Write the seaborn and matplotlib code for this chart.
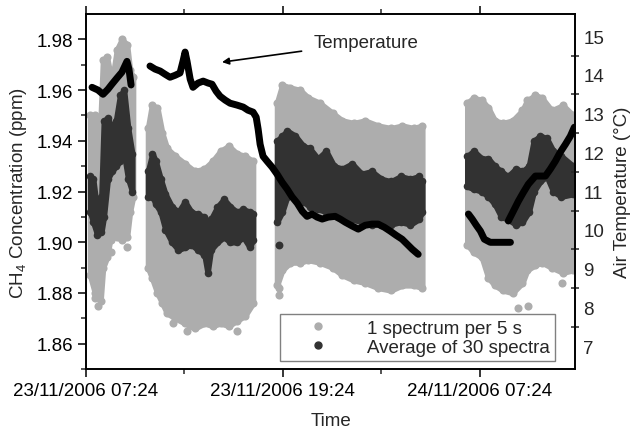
import numpy as np
import pandas as pd
import matplotlib
matplotlib.use('Agg')
import matplotlib.pyplot as plt
import matplotlib.dates as mdates
from matplotlib.lines import Line2D
import seaborn as sns

# hours after 23/11/2006 07:24, one list per measurement block
gray_t = [
    [0.25, 0.55, 0.89, 1.04, 1.28, 1.58, 1.89, 2.19, 2.50, 2.68, 2.87],
    [3.78, 4.02, 4.35, 4.65, 4.94, 5.44, 6.03, 6.62, 7.22, 7.71, 8.20, 8.70, 9.19, 9.69, 10.18],
    [11.64, 11.96, 12.45, 13.05, 13.54, 14.23, 15.02, 15.62, 16.31, 17.00, 17.79, 18.58, 19.27, 19.97, 20.49],
    [23.23, 23.62, 24.12, 24.51, 24.91, 25.40, 25.99, 26.59, 26.88, 27.38, 27.77, 28.37, 29.06, 29.69],
]
gray_lo = [
    [1.887, 1.880, 1.877, 1.890, 1.894, 1.905, 1.902, 1.901, 1.902, 1.912, 1.918],
    [1.890, 1.886, 1.880, 1.876, 1.872, 1.870, 1.868, 1.866, 1.868, 1.867, 1.868, 1.867, 1.869, 1.871, 1.876],
    [1.883, 1.889, 1.892, 1.892, 1.893, 1.892, 1.890, 1.887, 1.885, 1.884, 1.882, 1.881, 1.883, 1.883, 1.882],
    [1.899, 1.896, 1.894, 1.886, 1.883, 1.881, 1.880, 1.884, 1.889, 1.891, 1.892, 1.890, 1.888, 1.889],
]
gray_hi = [
    [1.950, 1.950, 1.948, 1.972, 1.973, 1.963, 1.976, 1.980, 1.978, 1.968, 1.965],
    [1.945, 1.954, 1.953, 1.943, 1.937, 1.934, 1.931, 1.928, 1.929, 1.932, 1.936, 1.938, 1.935, 1.934, 1.932],
    [1.955, 1.962, 1.961, 1.960, 1.957, 1.955, 1.951, 1.948, 1.947, 1.948, 1.946, 1.945, 1.946, 1.945, 1.946],
    [1.955, 1.957, 1.956, 1.953, 1.948, 1.947, 1.948, 1.952, 1.956, 1.958, 1.957, 1.952, 1.954, 1.950],
]
gray_out_t = [0.73, 0.55, 1.52, 1.55, 2.50, 6.16, 9.21, 5.31, 11.76, 11.76, 26.34, 26.95, 29.02]
gray_out_v = [1.875, 1.878, 1.901, 1.896, 1.898, 1.865, 1.865, 1.868, 1.882, 1.879, 1.874, 1.875, 1.884]

avg_t = [
    [0.25, 0.44, 0.69, 0.94, 1.09, 1.33, 1.58, 1.83, 2.08, 2.32, 2.57, 2.82],
    [3.78, 4.05, 4.25, 4.55, 4.84, 5.24, 5.63, 6.03, 6.42, 6.82, 7.22, 7.41, 7.61, 8.01, 8.40, 8.80, 9.19, 9.59, 9.98, 10.18],
    [11.64, 11.96, 12.26, 12.75, 13.24, 13.64, 14.13, 14.63, 15.12, 15.62, 16.21, 16.80, 17.40, 17.99, 18.58, 19.17, 19.77, 20.26, 20.49],
    [23.23, 23.62, 24.12, 24.51, 24.91, 25.30, 25.70, 26.19, 26.59, 26.98, 27.28, 27.68, 28.07, 28.47, 28.96, 29.69],
]
avg_lo = [
    [1.912, 1.908, 1.903, 1.904, 1.910, 1.925, 1.928, 1.930, 1.932, 1.935, 1.925, 1.920],
    [1.918, 1.918, 1.915, 1.912, 1.905, 1.900, 1.897, 1.898, 1.899, 1.897, 1.895, 1.888, 1.897, 1.900, 1.902, 1.900, 1.900, 1.902, 1.898, 1.901],
    [1.908, 1.912, 1.918, 1.918, 1.916, 1.914, 1.913, 1.912, 1.911, 1.910, 1.909, 1.908, 1.907, 1.907, 1.907, 1.908, 1.907, 1.909, 1.912],
    [1.922, 1.921, 1.920, 1.918, 1.915, 1.910, 1.909, 1.907, 1.908, 1.912, 1.920, 1.924, 1.926, 1.920, 1.918, 1.919],
]
avg_hi = [
    [1.926, 1.925, 1.912, 1.918, 1.948, 1.949, 1.945, 1.948, 1.958, 1.960, 1.945, 1.935],
    [1.928, 1.935, 1.932, 1.925, 1.919, 1.914, 1.912, 1.916, 1.912, 1.911, 1.910, 1.906, 1.909, 1.914, 1.917, 1.914, 1.912, 1.913, 1.912, 1.911],
    [1.940, 1.942, 1.944, 1.942, 1.938, 1.937, 1.933, 1.936, 1.930, 1.929, 1.931, 1.927, 1.928, 1.925, 1.924, 1.926, 1.925, 1.926, 1.924],
    [1.934, 1.936, 1.933, 1.933, 1.930, 1.928, 1.926, 1.929, 1.928, 1.930, 1.940, 1.942, 1.941, 1.936, 1.934, 1.930],
]
avg_out_t = [11.76]
avg_out_v = [1.899]

temp_t = [
    [0.37, 0.73, 1.04, 1.34, 1.58, 1.89, 2.19, 2.50, 2.62, 2.75],
    [3.90, 4.21, 4.52, 4.81, 5.12, 5.43, 5.73, 5.91, 6.04, 6.16, 6.35, 6.52, 6.83, 7.14, 7.44,
     7.68, 7.93, 8.17, 8.48, 8.78, 9.21, 9.58, 9.87, 10.18, 10.37, 10.49, 10.61, 10.79, 11.04,
     11.34, 11.64, 11.95, 12.26, 12.56, 12.87, 13.18, 13.47, 13.78, 14.08, 14.39, 14.76, 15.18,
     15.49, 15.79, 16.22, 16.59, 17.01, 17.44, 17.80, 18.17, 18.53, 18.90, 19.26, 19.57, 19.88, 20.24],
    [23.30, 23.53, 23.78, 24.03, 24.27, 24.63, 25.24, 25.86],
    [25.73, 26.03, 26.34, 26.65, 26.95, 27.38, 27.68, 27.99, 28.29, 28.59, 28.90, 29.21, 29.51, 29.75],
]
temp_v = [
    [13.68, 13.61, 13.50, 13.63, 13.76, 13.92, 14.07, 14.35, 14.15, 13.74],
    [14.23, 14.15, 14.10, 14.02, 13.94, 13.99, 14.05, 14.35, 14.59, 14.35, 13.89, 13.68, 13.79, 13.84, 13.79,
     13.76, 13.58, 13.45, 13.35, 13.27, 13.22, 13.17, 13.09, 13.04, 12.91, 12.60, 12.21, 11.90, 11.77,
     11.62, 11.44, 11.23, 11.05, 10.85, 10.69, 10.48, 10.35, 10.41, 10.33, 10.28, 10.33, 10.35,
     10.28, 10.20, 10.10, 10.02, 10.12, 10.15, 10.15, 10.07, 9.97, 9.86, 9.76, 9.63, 9.50, 9.37],
    [10.41, 10.28, 10.12, 9.97, 9.76, 9.68, 9.68, 9.68],
    [10.23, 10.48, 10.74, 10.97, 11.18, 11.39, 11.39, 11.39, 11.57, 11.77, 12.01, 12.21, 12.42, 12.65],
]

xtick_hours = [0, 12, 24]
xminor_hours = [6, 18]
x_end_hours = 29.8

START = pd.Timestamp('2006-11-23 07:24')
GRAY = '#adadad'
DARK = '#323232'
FS = 13.5


def to_time(hours):
    return START + pd.to_timedelta(np.asarray(hours, dtype=float), unit='h')


sns.set_style('ticks')
plt.rcParams['font.family'] = ['Liberation Sans', 'DejaVu Sans']
plt.rcParams['mathtext.default'] = 'regular'
plt.rcParams['font.size'] = FS

fig = plt.figure(figsize=(6.32, 4.31), dpi=100)
ax = fig.add_axes([0.136, 0.1415, 0.774, 0.8235])
ax2 = ax.twinx()

# 5 s spectra as a light cloud, 30-spectra averages as a dark band
for t, lo, hi in zip(gray_t, gray_lo, gray_hi):
    tt = to_time(t)
    ax.fill_between(tt, lo, hi, facecolor=GRAY, edgecolor=GRAY, lw=4, zorder=1)
    sns.scatterplot(x=tt, y=lo, color=GRAY, s=34, linewidth=0, ax=ax, zorder=1)
    sns.scatterplot(x=tt, y=hi, color=GRAY, s=34, linewidth=0, ax=ax, zorder=1)
sns.scatterplot(x=to_time(gray_out_t), y=gray_out_v, color=GRAY, s=34, linewidth=0, ax=ax, zorder=1)

for t, lo, hi in zip(avg_t, avg_lo, avg_hi):
    tt = to_time(t)
    ax.fill_between(tt, lo, hi, facecolor=DARK, edgecolor=DARK, lw=4, zorder=2)
    sns.scatterplot(x=tt, y=lo, color=DARK, s=30, linewidth=0, ax=ax, zorder=2)
    sns.scatterplot(x=tt, y=hi, color=DARK, s=30, linewidth=0, ax=ax, zorder=2)
sns.scatterplot(x=to_time(avg_out_t), y=avg_out_v, color=DARK, s=32, linewidth=0, ax=ax, zorder=2)

temp_df = pd.DataFrame({
    'time': np.concatenate([to_time(t) for t in temp_t]),
    'temp': np.concatenate(temp_v),
    'seg': np.concatenate([[i] * len(t) for i, t in enumerate(temp_t)]),
})
sns.lineplot(data=temp_df, x='time', y='temp', units='seg', estimator=None,
             color='black', lw=5, ax=ax2, legend=False)
for ln in ax2.lines:
    ln.set_solid_capstyle('round')
    ln.set_solid_joinstyle('round')

ax2.annotate('Temperature', xy=(to_time([8.29])[0], 14.33), xytext=(to_time([13.84])[0], 14.84),
             ha='left', va='center', fontsize=FS,
             arrowprops=dict(arrowstyle='-|>', color='black', lw=1.2, shrinkA=6, shrinkB=0,
                             mutation_scale=10))

# axes
ax.set_xlim(to_time([0])[0], to_time([x_end_hours])[0])
ax.set_xticks(to_time(xtick_hours))
ax.set_xticks(to_time(xminor_hours), minor=True)
ax.xaxis.set_major_formatter(mdates.DateFormatter('%d/%m/%Y %H:%M'))
ax.set_ylim(1.85, 1.99)
ax.set_yticks(np.arange(1.86, 1.981, 0.02))
ax.set_yticks(np.arange(1.85, 1.99, 0.01), minor=True)
ax.yaxis.set_major_formatter(matplotlib.ticker.FormatStrFormatter('%.2f'))
ax2.set_ylim(6.41, 15.57)
ax2.set_yticks(range(7, 16))
ax2.set_yticks(np.arange(7.5, 15.0, 1.0), minor=True)

ax.tick_params(axis='both', which='major', direction='out', length=6, width=1.1, labelsize=FS, colors='black')
ax.tick_params(axis='both', which='minor', direction='out', length=3.5, width=1.1)
ax.tick_params(axis='x', top=True, which='both')
ax.tick_params(axis='y', right=False, which='both')
ax2.tick_params(axis='y', which='major', length=0, pad=6, labelsize=FS)
ax2.tick_params(axis='y', which='minor', direction='inout', length=6, width=1.1)

for a in (ax, ax2):
    for s in a.spines.values():
        s.set_visible(True)
        s.set_linewidth(1.2)
        s.set_color('black')

ax.set_xlabel('Time', fontsize=FS, labelpad=9)
ax.set_ylabel('CH$_4$ Concentration (ppm)', fontsize=FS, labelpad=5)
ax2.set_ylabel('Air Temperature (°C)', fontsize=FS, labelpad=7)

handles = [
    Line2D([], [], marker='o', ls='', color=GRAY, markersize=5, label='1 spectrum per 5 s'),
    Line2D([], [], marker='o', ls='', color=DARK, markersize=5, label='Average of 30 spectra'),
]
leg = ax.legend(handles=handles, loc='lower right', bbox_to_anchor=(0.959, 0.022),
                frameon=True, fancybox=False, framealpha=1, edgecolor='#808080',
                fontsize=FS, handletextpad=0.9, borderpad=0.3, labelspacing=0.1,
                handlelength=3.4, borderaxespad=0)
leg.get_frame().set_linewidth(1.0)
leg.set_zorder(5)

fig.savefig('out.png', dpi=100)
